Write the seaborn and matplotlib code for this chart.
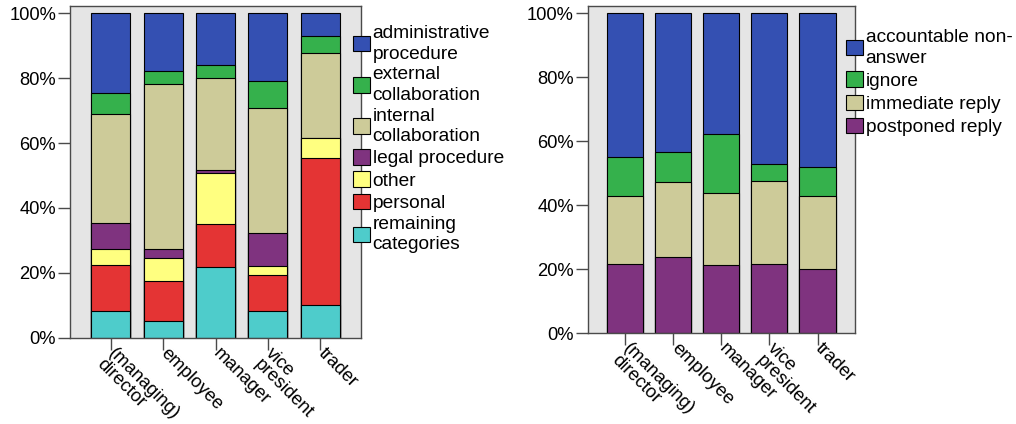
import matplotlib
matplotlib.use("Agg")
import matplotlib.pyplot as plt
from matplotlib.patches import Patch
from matplotlib.ticker import FuncFormatter
from matplotlib.transforms import ScaledTranslation
import seaborn as sns

sns.set_style("ticks")
plt.rcParams["font.family"] = ["Liberation Sans", "DejaVu Sans"]
plt.rcParams["text.color"] = "black"

# x categories (same for both panels)
roles = ["(managing)\ndirector", "employee", "manager", "vice\npresident", "trader"]

# left panel: topic shares in %, listed from top of stack to bottom
topic_names = ["administrative\nprocedure", "external\ncollaboration", "internal\ncollaboration",
               "legal procedure", "other", "personal", "remaining\ncategories"]
admin_proc = [24.7, 17.8, 16.0, 20.8, 7.0]
external = [6.4, 4.1, 4.0, 8.5, 5.1]
internal = [33.4, 50.9, 28.2, 38.5, 26.2]
legal = [8.1, 2.7, 0.9, 10.1, 0.0]
other = [5.1, 6.9, 16.0, 2.9, 6.2]
personal = [14.0, 12.4, 13.0, 10.9, 45.5]
remaining = [8.3, 5.2, 21.9, 8.3, 10.0]
topic_colors = ["#3450b2", "#35b14c", "#cdcb99", "#7f337f", "#ffff80", "#e43434", "#4ecccb"]

# right panel: response shares in %, top of stack to bottom
resp_names = ["accountable non-\nanswer", "ignore", "immediate reply", "postponed reply"]
accountable = [45.0, 43.2, 37.8, 47.0, 48.0]
ignore = [12.1, 9.6, 18.3, 5.3, 9.1]
immediate = [21.3, 23.3, 22.5, 26.1, 22.9]
postponed = [21.6, 23.9, 21.4, 21.6, 20.0]
resp_colors = ["#3450b2", "#35b14c", "#cdcb99", "#7f337f"]

FRAME = "#4a4a4a"
W, H = 1016, 424
fig = plt.figure(figsize=(W / 100, H / 100), dpi=100)
ax1 = fig.add_axes([70 / W, 1 - 337.7 / H, 291 / W, 331.7 / H])
ax2 = fig.add_axes([587.7 / W, 1 - 333.3 / H, 267.3 / W, 327.3 / H])


def stacked(ax, series, colors):
    # draw cumulative totals from the top segment down so each bar covers the one above
    n = len(series)
    for i in range(n):
        cum = [sum(s[j] for s in series[i:]) for j in range(len(roles))]
        sns.barplot(x=roles, y=cum, color=colors[i], width=0.75, saturation=1,
                    edgecolor="black", linewidth=0.8, ax=ax)


def style(ax, ytop):
    ax.set_facecolor("#e5e5e5")
    ax.set_xlim(-0.78, 4.78)
    ax.set_ylim(0, ytop)
    ax.set_yticks(range(0, 101, 20))
    ax.yaxis.set_major_formatter(FuncFormatter(lambda v, p: f"{int(v)}%"))
    for s in ax.spines.values():
        s.set_color(FRAME)
        s.set_linewidth(1.0)
    ax.tick_params(axis="both", length=8.5, width=1.0, color=FRAME, labelcolor="black",
                   labelsize=13.2, pad=1.5)
    ax.set_xticks(range(len(roles)))
    ax.set_xticklabels(roles, rotation=-45, ha="left", va="top", rotation_mode="anchor")
    shift = ScaledTranslation(0.065, 0.07, fig.dpi_scale_trans)
    for t in ax.get_xticklabels():
        t.set_linespacing(0.95)
        t.set_transform(t.get_transform() + shift)
    ax.set_xlabel("")
    ax.set_ylabel("")


stacked(ax1, [admin_proc, external, internal, legal, other, personal, remaining], topic_colors)
style(ax1, 102.25)
stacked(ax2, [accountable, ignore, immediate, postponed], resp_colors)
style(ax2, 102.3)


def legend(names, colors, x, y, lsp):
    handles = [Patch(facecolor=c, edgecolor="black", linewidth=0.8) for c in colors]
    leg = fig.legend(handles, names, loc="upper left", bbox_to_anchor=(x / W, 1 - y / H),
                     frameon=False, fontsize=13.8, borderpad=0, borderaxespad=0,
                     handlelength=0.88, handleheight=0.88, handletextpad=0.15,
                     labelspacing=lsp)
    for t in leg.get_texts():
        t.set_color("black")
        t.set_linespacing(1.27)
    return leg


legend(topic_names, topic_colors, 353, 25, 0.2)
legend(resp_names, resp_colors, 846, 29, 0.25)

fig.savefig("out.png", dpi=100)
